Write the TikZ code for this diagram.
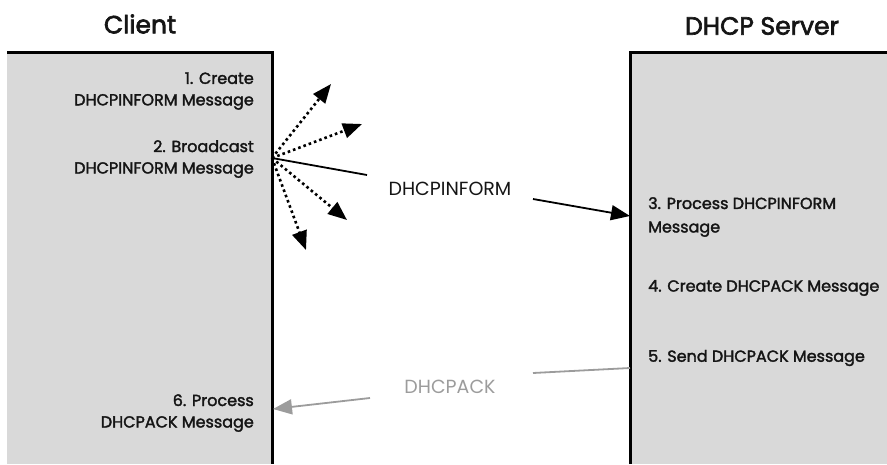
\documentclass[tikz,border=0pt]{standalone}
\usepackage{fontspec}
\setmainfont{Poppins}
\newfontfamily\medfont{Poppins}[FakeBold=2]
\newfontfamily\titlefont{Poppins}[FakeBold=2.5]
\usetikzlibrary{arrows.meta}
\definecolor{boxgray}{HTML}{D9D9D9}
\definecolor{ackgray}{HTML}{9C9C9C}
\definecolor{lblblack}{HTML}{151515}
\begin{document}
\begin{tikzpicture}[x=1pt,y=-1pt,
  title/.style={font=\titlefont\fontsize{25}{28}\selectfont, inner sep=0pt, text=lblblack},
  rlbl/.style={font=\medfont\fontsize{16}{21.5}\selectfont, inner sep=0pt, align=right, anchor=east, text=lblblack},
  llbl/.style={font=\medfont\fontsize{16}{23.5}\selectfont, inner sep=0pt, align=left, anchor=west, text=lblblack},
  msg/.style={font=\fontsize{19}{22}\selectfont, inner sep=0pt},
  border/.style={line width=3pt},
  tip/.style={-{Triangle[length=19pt,width=15pt]}},
  solidmsg/.style={line width=1.8pt, draw=black},
  bcast/.style={line width=2.6pt, dash pattern=on 2.6pt off 3pt, tip}]
\useasboundingbox (0,0) rectangle (887,464);
% boxes
\fill[boxgray] (7,52) rectangle (272,464);
\draw[border] (7,52) -- (272,52) -- (272,464);
\fill[boxgray] (630,52) rectangle (887,464);
\draw[border] (630,464) -- (630,52) -- (887,52);
% titles
\node[title] (tclient) at (140,24) {Client};
\node[title] (tserver) at (762,26) {DHCP Server};
% client steps
\node[rlbl] (s1) at (254,91) {1. Create\\DHCPINFORM Message};
\node[rlbl] (s2) at (254,159) {2. Broadcast\\DHCPINFORM Message};
\node[rlbl] (s6) at (254,413) {6. Process\\DHCPACK Message};
% server steps
\node[llbl] (s3) at (648,217) {3. Process DHCPINFORM\\Message};
\node[llbl] (s4) at (648,288) {4. Create DHCPACK Message};
\node[llbl] (s5) at (648,358) {5. Send DHCPACK Message};
% message labels
\node[msg, text=lblblack] (minf) at (450,189) {DHCPINFORM};
\node[msg, text=ackgray] (mack) at (450,387) {DHCPACK};
% coordinates
\coordinate (orig) at (272,158);
\coordinate (solidend) at (367,175);
\coordinate (infstart) at (533,199);
\coordinate (infend) at (630,216);
\coordinate (ackstart) at (630,368);
\coordinate (ackmid) at (533,373);
\coordinate (ackfrom) at (370,398);
\coordinate (ackend) at (273,409);
\coordinate (b1) at (331,84);
\coordinate (b2) at (362,124);
\coordinate (b3) at (347,220);
\coordinate (b4) at (306,250);
% broadcast
\draw[bcast] (orig) -- (b1);
\draw[bcast] (orig) -- (b2);
\draw[bcast] (orig) -- (b3);
\draw[bcast] (orig) -- (b4);
\draw[solidmsg] (orig) -- (solidend);
\draw[solidmsg, tip] (infstart) -- (infend);
% ack
\draw[line width=1.8pt, ackgray] (ackstart) -- (ackmid);
\draw[line width=1.8pt, ackgray, tip] (ackfrom) -- (ackend);
\end{tikzpicture}
\end{document}
